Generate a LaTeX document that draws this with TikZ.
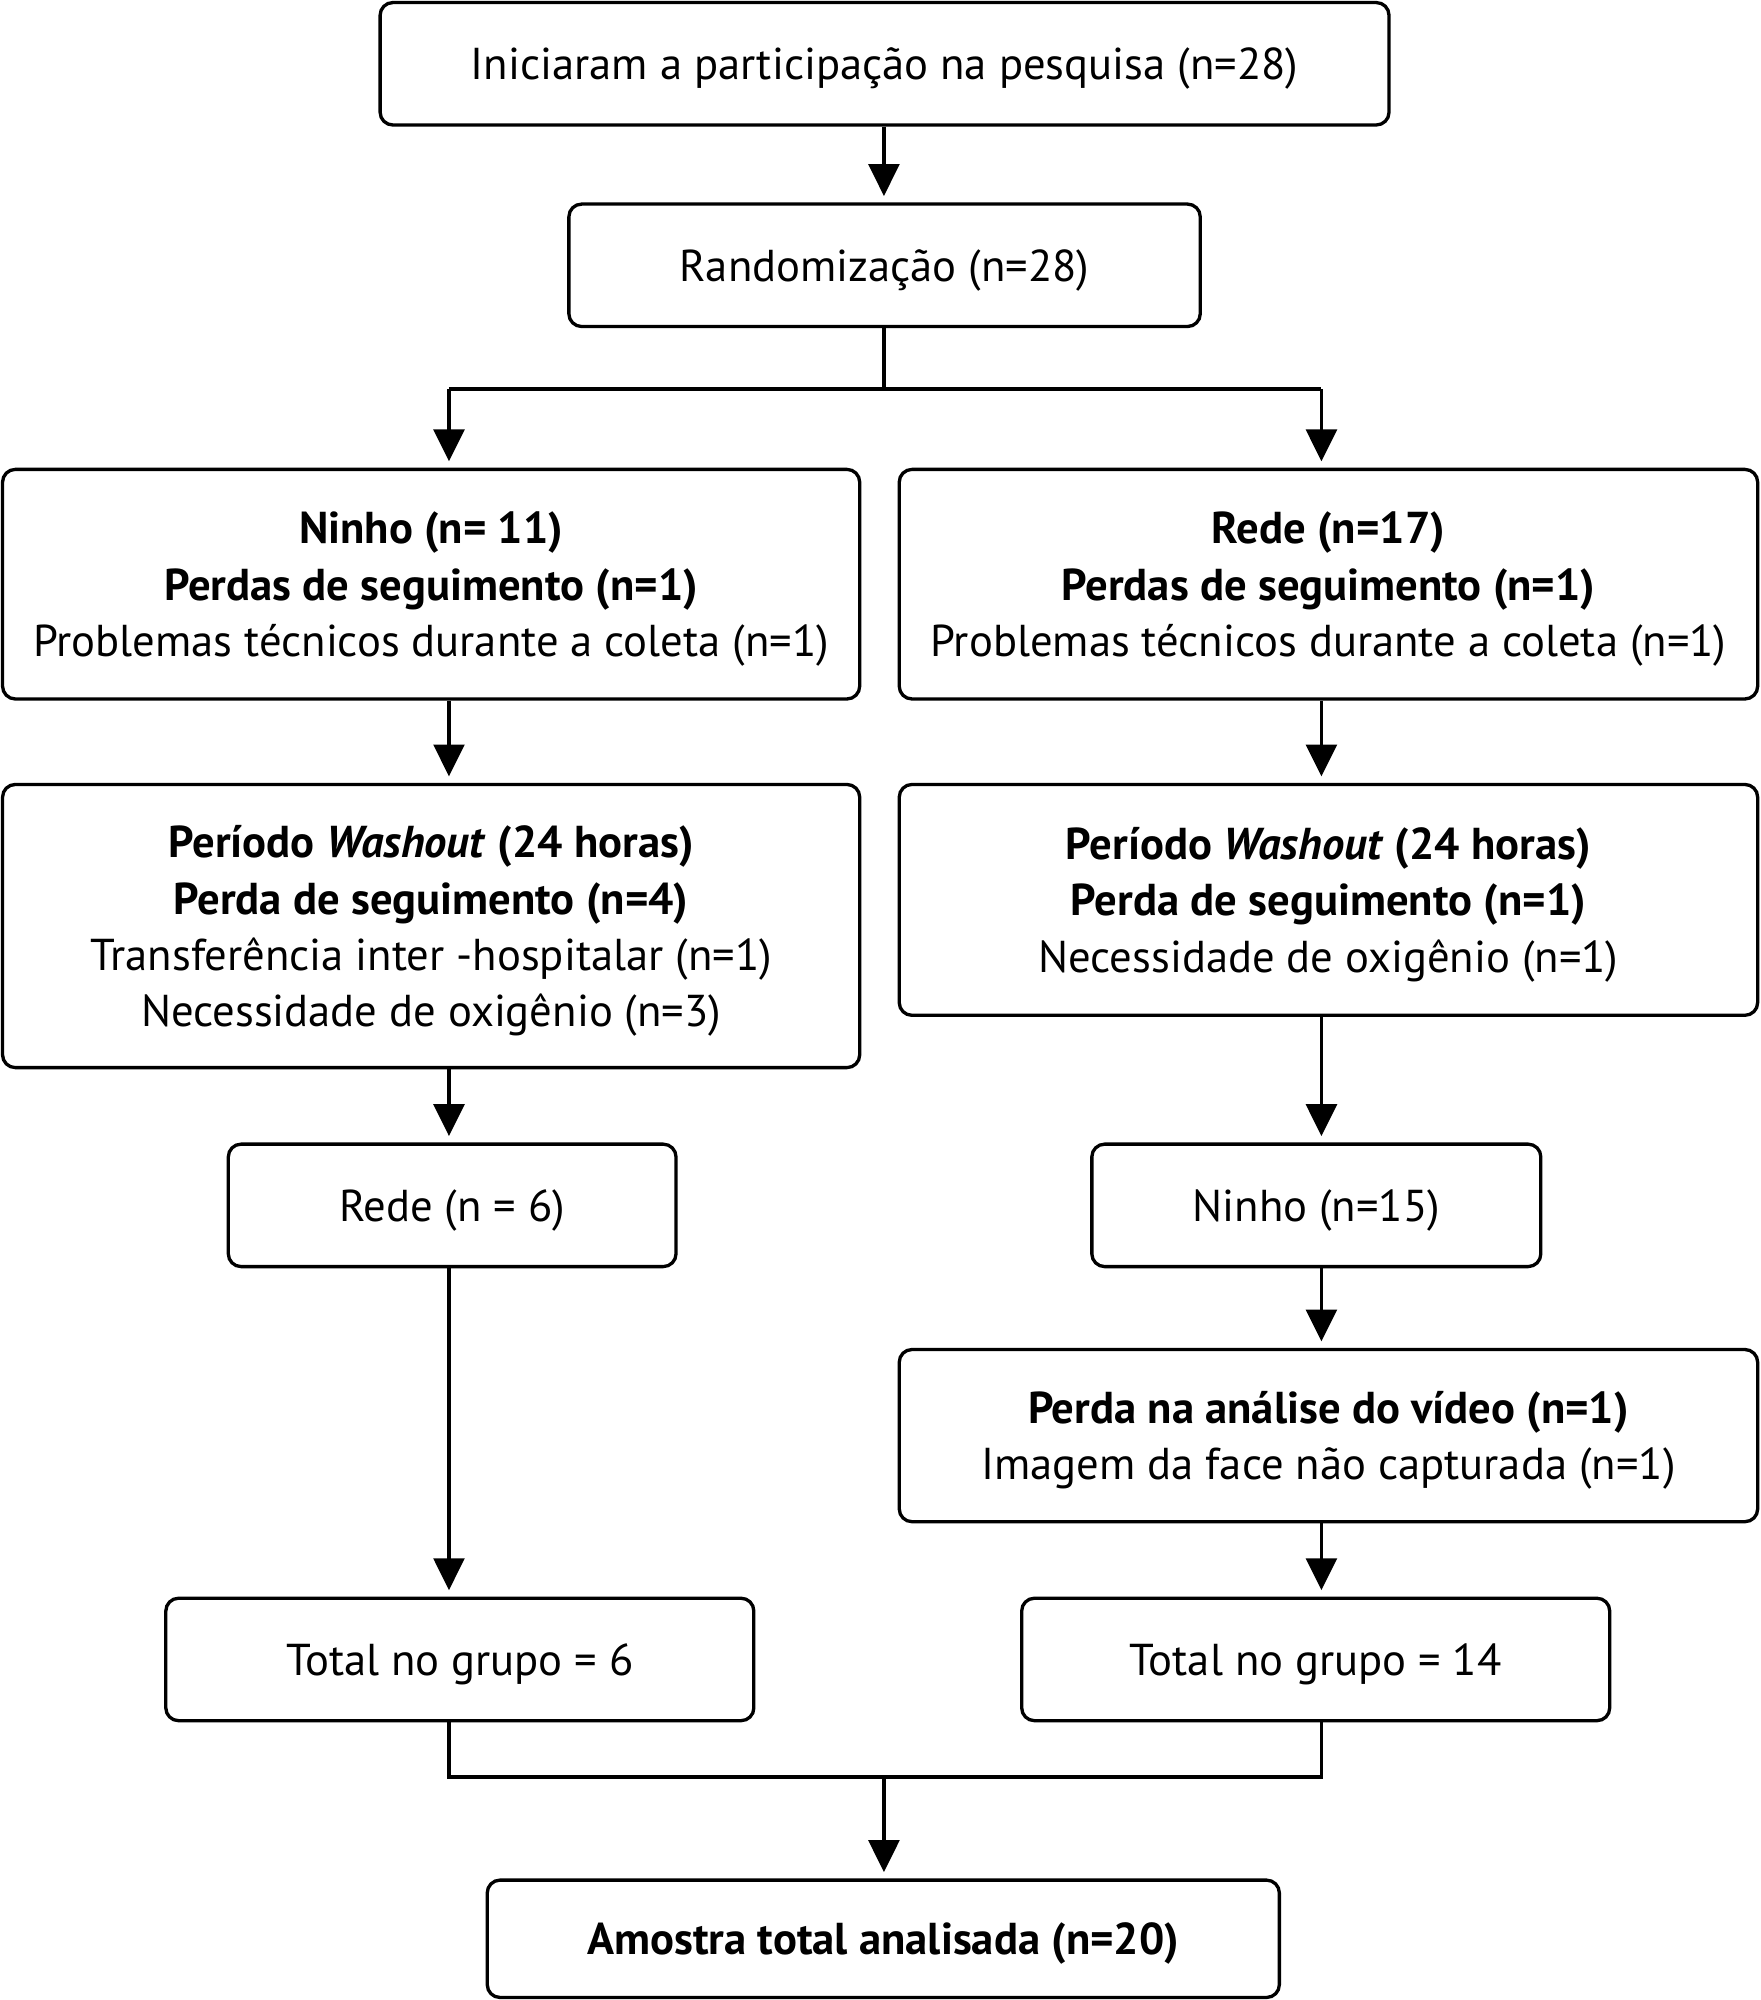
\documentclass[tikz,border=0pt]{standalone}
\usepackage{fontspec}
\setmainfont{PT Sans}
\usetikzlibrary{arrows.meta}
\begin{document}
\begin{tikzpicture}[x=1pt,y=-1pt,
  box/.style={draw, line width=2.6pt, rounded corners=10pt, align=center, inner sep=0pt,
    text depth=0pt, font=\fontsize{35}{44}\selectfont},
  arr/.style={line width=3pt, -{Triangle[length=25pt,width=24pt]}, shorten >=5pt},
  ln/.style={line width=3pt}]
\useasboundingbox (0,0) rectangle (1380,1568);
\node[box, minimum width=791pt, minimum height=96pt] (b1) at (693.5,50) {Iniciaram a participação na pesquisa (n=28)};
\node[box, minimum width=495pt, minimum height=96pt] (b2) at (693.5,208) {Randomização (n=28)};
\node[box, minimum width=672pt, minimum height=180pt] (b3L) at (338,458) {\textbf{Ninho (n= 11)}\\\textbf{Perdas de seguimento (n=1)}\\Problemas técnicos durante a coleta (n=1)};
\node[box, minimum width=673pt, minimum height=180pt] (b3R) at (1041.5,458) {\textbf{Rede (n=17)}\\\textbf{Perdas de seguimento (n=1)}\\Problemas técnicos durante a coleta (n=1)};
\node[box, minimum width=672pt, minimum height=222pt] (b4L) at (338,726) {\textbf{Período \textit{Washout} (24 horas)}\\\textbf{Perda de seguimento (n=4)}\\Transferência inter -hospitalar (n=1)\\Necessidade de oxigênio (n=3)};
\node[box, minimum width=673pt, minimum height=181pt] (b4R) at (1041.5,705.5) {\textbf{Período \textit{Washout} (24 horas)}\\\textbf{Perda de seguimento (n=1)}\\Necessidade de oxigênio (n=1)};
\node[box, minimum width=351pt, minimum height=96pt] (b5L) at (354.5,945) {Rede (n = 6)};
\node[box, minimum width=352pt, minimum height=96pt] (b5R) at (1032,945) {Ninho (n=15)};
\node[box, minimum width=673pt, minimum height=135pt] (b6R) at (1041.5,1125.5) {\textbf{Perda na análise do vídeo (n=1)}\\Imagem da face não capturada (n=1)};
\node[box, minimum width=461pt, minimum height=96pt] (b7L) at (360.5,1301) {Total no grupo = 6};
\node[box, minimum width=461pt, minimum height=96pt] (b7R) at (1031.5,1301) {Total no grupo = 14};
\node[box, minimum width=621pt, minimum height=92pt] (b8) at (692.5,1520) {\textbf{Amostra total analisada (n=20)}};
\coordinate (xl) at (352,0);
\coordinate (xr) at (1036,0);
\coordinate (xm) at (693,0);
\coordinate (split) at (693,305);
\coordinate (join) at (693,1393);
% top
\draw[arr] (b1.south -| xm) -- (b2.north -| xm);
\draw[ln] (b2.south -| xm) -- (split);
\draw[ln] (split -| xl) -- (split -| xr);
\draw[arr] (split -| xl) -- (b3L.north -| xl);
\draw[arr] (split -| xr) -- (b3R.north -| xr);
% left column
\draw[arr] (b3L.south -| xl) -- (b4L.north -| xl);
\draw[arr] (b4L.south -| xl) -- (b5L.north -| xl);
\draw[arr] (b5L.south -| xl) -- (b7L.north -| xl);
% right column
\draw[arr] (b3R.south -| xr) -- (b4R.north -| xr);
\draw[arr] (b4R.south -| xr) -- (b5R.north -| xr);
\draw[arr] (b5R.south -| xr) -- (b6R.north -| xr);
\draw[arr] (b6R.south -| xr) -- (b7R.north -| xr);
% join
\draw[ln] (b7L.south -| xl) -- (join -| xl) -- (join -| xr) -- (b7R.south -| xr);
\draw[arr] (join) -- (b8.north -| xm);
\end{tikzpicture}
\end{document}
